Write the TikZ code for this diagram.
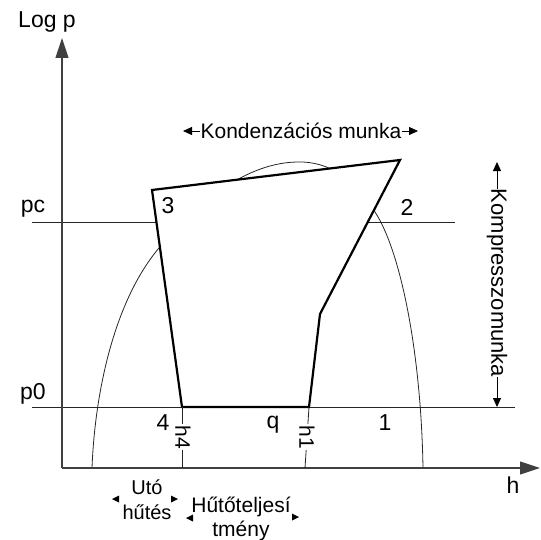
\documentclass[tikz,border=0pt]{standalone}
\usepackage{fontspec}
\setmainfont{Liberation Sans}
\usetikzlibrary{arrows.meta}
\begin{document}
\begin{tikzpicture}[x=1pt,y=-1pt,
  thinline/.style={line width=0.8pt, draw=black!85},
  axisline/.style={line width=1.1pt, draw=black!75, -{Triangle[length=20pt,width=13pt]}},
  cycleline/.style={line width=2.2pt, line join=miter, fill=white},
  lbl/.style={font=\fontsize{23}{23}\selectfont, inner sep=0pt},
  txt/.style={font=\fontsize{21}{24}\selectfont, inner sep=0pt},
  vtxt/.style={font=\fontsize{22}{24}\selectfont, inner sep=0pt, rotate=-90},
  dimarrow/.style={line width=0.8pt, -{Triangle[length=9pt,width=8pt]}},
  tip/.style={fill=black},
]
\useasboundingbox (0,0) rectangle (540,540);
% saturation dome
\coordinate (dL) at (92,468);
\coordinate (dA) at (159,248);
\coordinate (dTop) at (297,162);
\coordinate (dB) at (375,212);
\coordinate (dR) at (423,468);
\draw[thinline] (dL) .. controls (95,390) and (115,300) .. (dA)
  .. controls (189,212.5) and (240,163) .. (dTop)
  .. controls (330,161) and (355,180) .. (dB)
  .. controls (400,250) and (421,350) .. (dR);
% pressure lines
\coordinate (pcL) at (32,222); \coordinate (pcR) at (455,222);
\coordinate (p0L) at (32,407); \coordinate (p0R) at (515,407);
\draw[thinline] (pcL) -- (pcR);
\draw[thinline] (p0L) -- (p0R);
% axes
\coordinate (O) at (62,468);
\coordinate (Ytip) at (62,38);
\coordinate (Xtip) at (540,468);
\draw[axisline] (O) -- (Ytip);
\draw[axisline] (O) -- (Xtip);
% cycle
\coordinate (c3) at (152,190);
\coordinate (c2) at (400,160);
\coordinate (ck) at (320,314);
\coordinate (c1) at (309,407);
\coordinate (c4) at (182,407);
\draw[cycleline] (c3) -- (c2) -- (ck) -- (c1) -- (c4) -- cycle;
% ticks
\coordinate (t4) at (182,468);
\coordinate (t1) at (305,468);
\draw[thinline] (c4) -- (t4);
\draw[thinline] (c1) -- (t1);
\node[lbl, font=\fontsize{21}{21}\selectfont, rotate=-90, fill=white, inner sep=1pt] (h4) at (183,437) {h4};
\node[lbl, font=\fontsize{21}{21}\selectfont, rotate=-90, fill=white, inner sep=1pt] (h1) at (307,437) {h1};
% labels
\node[lbl] (logp) at (47,22) {Log p};
\node[lbl] (hlab) at (513,485) {h};
\node[lbl] (pc) at (33,209) {pc};
\node[lbl] (p0) at (33,394) {p0};
\node[lbl] (n3) at (168,206) {3};
\node[lbl] (n2) at (407,207) {2};
\node[lbl] (n4) at (163,423) {4};
\node[lbl] (nq) at (273,425) {q};
\node[lbl] (n1) at (385,423) {1};
% work arrows
\node[txt] (kond) at (301,131) {Kondenzációs munka};
\coordinate (kondL) at (183,131); \coordinate (kondR) at (418,131);
\draw[dimarrow] (kond.west) -- (kondL);
\draw[dimarrow] (kond.east) -- (kondR);
\node[vtxt] (komp) at (497,283) {Kompresszomunka};
\coordinate (kompT) at (497,162); \coordinate (kompB) at (497,407);
\draw[dimarrow] (komp.west) -- (kompT);
\draw[dimarrow] (komp.east) -- (kompB);
% bottom texts
\node[txt, font=\fontsize{20}{25}\selectfont, align=center] (uto) at (147,500) {Utó\\hűtés};
\node[txt, align=center] (hut) at (241,519) {Hűtőteljesí\\tmény};
\fill[tip] (112,499) -- (119,495.5) -- (119,502.5) -- cycle;
\fill[tip] (178,499) -- (171,495.5) -- (171,502.5) -- cycle;
\fill[tip] (186,518) -- (193,514.5) -- (193,521.5) -- cycle;
\fill[tip] (299,517) -- (292,513.5) -- (292,520.5) -- cycle;
\end{tikzpicture}
\end{document}
